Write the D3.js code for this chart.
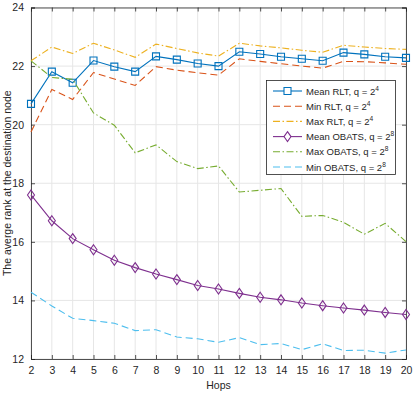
<!DOCTYPE html>
<html>
<head>
<meta charset="utf-8">
<script src="https://cdn.jsdelivr.net/npm/d3@7"></script>
<style>
  body { margin: 0; background: #fff; }
  svg { font-family: "Liberation Sans", Arial, sans-serif; }
</style>
</head>
<body>
<svg id="chart" width="415" height="394"></svg>
<script>
var hops = d3.range(2, 21);
var meanRLT   = [20.71, 21.81, 21.43, 22.19, 21.98, 21.81, 22.33, 22.22, 22.09, 22.00, 22.49, 22.41, 22.32, 22.25, 22.18, 22.46, 22.40, 22.32, 22.28];
var minRLT    = [19.75, 21.20, 20.86, 21.78, 21.56, 21.34, 21.98, 21.86, 21.77, 21.69, 22.25, 22.16, 22.08, 22.00, 21.93, 22.16, 22.15, 22.11, 22.06];
var maxRLT    = [22.18, 22.65, 22.43, 22.78, 22.55, 22.30, 22.75, 22.60, 22.45, 22.34, 22.78, 22.69, 22.62, 22.54, 22.47, 22.71, 22.65, 22.60, 22.57];
var meanOBATS = [17.60, 16.72, 16.11, 15.73, 15.37, 15.12, 14.90, 14.71, 14.51, 14.39, 14.24, 14.11, 14.02, 13.91, 13.82, 13.74, 13.67, 13.59, 13.52];
var maxOBATS  = [22.18, 21.61, 21.55, 20.40, 19.98, 19.04, 19.31, 18.74, 18.50, 18.59, 17.70, 17.76, 17.82, 16.87, 16.90, 16.67, 16.26, 16.63, 16.01];
var minOBATS  = [14.28, 13.81, 13.39, 13.31, 13.22, 12.97, 13.00, 12.75, 12.69, 12.57, 12.73, 12.49, 12.53, 12.32, 12.52, 12.29, 12.30, 12.20, 12.31];
var yTicks = [12, 14, 16, 18, 20, 22, 24];

var series = [
	{name: "Mean RLT, q = 2", sup: "4", values: meanRLT, color: "#0072BD", dash: null, marker: "square"},
	{name: "Min RLT, q = 2", sup: "4", values: minRLT, color: "#D95319", dash: "7,4", marker: null},
	{name: "Max RLT, q = 2", sup: "4", values: maxRLT, color: "#EDB120", dash: "7,2.5,1.5,2.5", marker: null},
	{name: "Mean OBATS, q = 2", sup: "8", values: meanOBATS, color: "#7E2F8E", dash: null, marker: "diamond"},
	{name: "Max OBATS, q = 2", sup: "8", values: maxOBATS, color: "#77AC30", dash: "7,2.5,1.5,2.5", marker: null},
	{name: "Min OBATS, q = 2", sup: "8", values: minOBATS, color: "#4DBEEE", dash: "7,4", marker: null}
];

var svg = d3.select("#chart"),
	PLOT_L = 31, PLOT_R = 406, PLOT_T = 7.5, PLOT_B = 359;

var x = d3.scaleLinear().domain([2, 20]).range([PLOT_L, PLOT_R]);
var y = d3.scaleLinear().domain([12, 24]).range([PLOT_B, PLOT_T]);

// grid
var grid = svg.append("g");
grid.selectAll(".gx").data(hops).enter().append("line")
	.attr("x1", function(d) { return x(d); }).attr("x2", function(d) { return x(d); })
	.attr("y1", PLOT_T).attr("y2", PLOT_B)
	.attr("stroke", "#e6e6e6").attr("stroke-width", 1);
grid.selectAll(".gy").data(yTicks).enter().append("line")
	.attr("x1", PLOT_L).attr("x2", PLOT_R)
	.attr("y1", function(d) { return y(d); }).attr("y2", function(d) { return y(d); })
	.attr("stroke", "#e6e6e6").attr("stroke-width", 1);

// axes
var xAxis = svg.append("g").attr("transform", "translate(0," + PLOT_B + ")")
	.call(d3.axisBottom(x).tickValues(hops).tickSize(-4).tickPadding(8).tickFormat(d3.format("d")));
var xAxisTop = svg.append("g").attr("transform", "translate(0," + PLOT_T + ")")
	.call(d3.axisTop(x).tickValues(hops).tickSize(-4).tickFormat(""));
var yAxis = svg.append("g").attr("transform", "translate(" + PLOT_L + ",0)")
	.call(d3.axisLeft(y).tickValues(yTicks).tickSize(-4).tickPadding(7));
var yAxisRight = svg.append("g").attr("transform", "translate(" + PLOT_R + ",0)")
	.call(d3.axisRight(y).tickValues(yTicks).tickSize(-4).tickFormat(""));

[xAxis, xAxisTop, yAxis, yAxisRight].forEach(function(a) {
	a.selectAll("path").attr("stroke", "#262626").attr("stroke-width", 0.8);
	a.selectAll("line").attr("stroke", "#262626").attr("stroke-width", 0.8);
	a.selectAll("text").attr("fill", "#262626").attr("font-size", 10.5)
		.attr("font-family", "Liberation Sans, Arial, sans-serif");
});

svg.append("text")
	.attr("x", (PLOT_L + PLOT_R) / 2).attr("y", 389)
	.attr("text-anchor", "middle").attr("font-size", 10.5).attr("fill", "#262626")
	.text("Hops");
svg.append("text")
	.attr("transform", "translate(11," + ((PLOT_T + PLOT_B) / 2) + ") rotate(-90)")
	.attr("text-anchor", "middle").attr("font-size", 10.5).attr("fill", "#262626")
	.text("The averge rank at the destination node");

// lines
var line = d3.line()
	.x(function(d, i) { return x(hops[i]); })
	.y(function(d) { return y(d); });

function markerPath(type, cx, cy) {
	if (type == "square") {
		return "M" + (cx - 3.5) + " " + (cy - 3.5) + "h7v7h-7z";
	}
	return "M" + cx + " " + (cy - 5) + "L" + (cx + 3.5) + " " + cy + "L" + cx + " " + (cy + 5) + "L" + (cx - 3.5) + " " + cy + "z";
}

var plot = svg.append("g");
series.forEach(function(s) {
	plot.append("path")
		.attr("d", line(s.values))
		.attr("fill", "none")
		.attr("stroke", s.color)
		.attr("stroke-width", 1.1)
		.attr("stroke-dasharray", s.dash);
	if (s.marker) {
		plot.selectAll(null).data(s.values).enter().append("path")
			.attr("d", function(d, i) { return markerPath(s.marker, x(hops[i]), y(d)); })
			.attr("fill", "none")
			.attr("stroke", s.color)
			.attr("stroke-width", 1.1);
	}
});

// legend
var legend = svg.append("g");
legend.append("rect")
	.attr("x", 266.5).attr("y", 80.5).attr("width", 129).attr("height", 94)
	.attr("fill", "#fff").attr("stroke", "#262626").attr("stroke-width", 0.8);

series.forEach(function(s, i) {
	var ly = 91 + i * 15.2;
	legend.append("line")
		.attr("x1", 273).attr("x2", 302).attr("y1", ly).attr("y2", ly)
		.attr("stroke", s.color).attr("stroke-width", 1.1)
		.attr("stroke-dasharray", s.dash);
	if (s.marker) {
		legend.append("path")
			.attr("d", markerPath(s.marker, 287.5, ly))
			.attr("fill", "#fff").attr("stroke", s.color).attr("stroke-width", 1.1);
	}
	var t = legend.append("text")
		.attr("x", 306).attr("y", ly + 3.5)
		.attr("font-size", 9.5).attr("fill", "#262626");
	t.append("tspan").text(s.name);
	t.append("tspan").attr("dy", -4).attr("font-size", 6.6).text(s.sup);
});
</script>
</body>
</html>
